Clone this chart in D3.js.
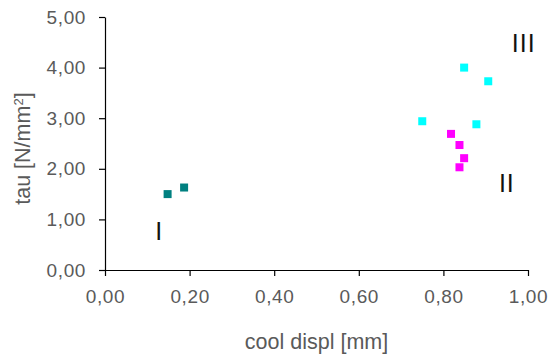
<!DOCTYPE html>
<html>
<head>
<meta charset="utf-8">
<script src="https://cdn.jsdelivr.net/npm/d3@7"></script>
<style>
  body { margin: 0; background: #fff; }
  text { font-family: "Liberation Sans", Arial, sans-serif; }
</style>
</head>
<body>
<div id="chart"></div>
<script>
// groups of measurements
let groupI_x = [0.148, 0.187];
let groupI_y = [1.50, 1.63];
let groupIII_x = [0.849, 0.906, 0.750, 0.878];
let groupIII_y = [4.00, 3.73, 2.94, 2.88];
let groupII_x = [0.818, 0.838, 0.849, 0.838];
let groupII_y = [2.69, 2.47, 2.21, 2.03];

let xTicks = [0, 0.2, 0.4, 0.6, 0.8, 1.0];
let yTicks = [0, 1, 2, 3, 4, 5];

// roman labels placed in data units
let groupNames = ["I", "II", "III"];
let groupNameX = [0.128, 0.95, 0.99];
let groupNameY = [0.60, 1.54, 4.30];

const width = 552, height = 356;
const margin = { left: 105, right: 24, top: 17, bottom: 86 };

let svg = d3.select("#chart")
    .append("svg")
    .attr("width", width)
    .attr("height", height);

let x = d3.scaleLinear()
    .domain([0, 1])
    .range([margin.left, width - margin.right]);
let y = d3.scaleLinear()
    .domain([0, 5])
    .range([height - margin.bottom, margin.top]);

let fmt = d => d.toFixed(2).replace(".", ",");

// x axis
let xAxis = svg.append("g")
    .attr("transform", `translate(0, ${y(0)})`)
    .call(d3.axisBottom(x).tickValues(xTicks).tickFormat(fmt).tickSize(6).tickPadding(14).tickSizeOuter(0));
// y axis
let yAxis = svg.append("g")
    .attr("transform", `translate(${x(0)}, 0)`)
    .call(d3.axisLeft(y).tickValues(yTicks).tickFormat(fmt).tickSize(6).tickPadding(13).tickSizeOuter(0));

[xAxis, yAxis].forEach(function (a) {
    a.select(".domain").attr("stroke", "#000").attr("stroke-width", 1.2);
    a.selectAll(".tick line").attr("stroke", "#000").attr("stroke-width", 1.2);
    a.selectAll(".tick text")
        .attr("fill", "#5a5a5a")
        .style("font-size", "19px")
        .style("letter-spacing", "0.6px");
});

// axis titles
svg.append("text")
    .attr("x", (x(0) + x(1)) / 2)
    .attr("y", 349)
    .attr("text-anchor", "middle")
    .attr("fill", "#5a5a5a")
    .style("font-size", "21.5px")
    .text("cool displ [mm]");

let yTitle = svg.append("text")
    .attr("transform", `translate(30, ${y(2.4)}) rotate(-90)`)
    .attr("text-anchor", "middle")
    .attr("fill", "#5a5a5a")
    .style("font-size", "21.5px");
yTitle.append("tspan").text("tau [N/mm");
yTitle.append("tspan").attr("dy", -7).style("font-size", "13px").text("2");
yTitle.append("tspan").attr("dy", 7).text("]");

// squares
const size = 8;
function drawGroup(xs, ys, color) {
    let data = xs.map((v, i) => ({ x: v, y: ys[i] }));
    svg.append("g")
        .selectAll("rect")
        .data(data)
        .enter()
        .append("rect")
        .attr("x", d => x(d.x) - size / 2)
        .attr("y", d => y(d.y) - size / 2)
        .attr("width", size)
        .attr("height", size)
        .attr("fill", color);
}
drawGroup(groupI_x, groupI_y, "#008080");
drawGroup(groupIII_x, groupIII_y, "#00ffff");
drawGroup(groupII_x, groupII_y, "#ff00ff");

// group labels
svg.append("g")
    .selectAll("text")
    .data(groupNames)
    .enter()
    .append("text")
    .attr("x", (d, i) => x(groupNameX[i]))
    .attr("y", (d, i) => y(groupNameY[i]))
    .attr("text-anchor", "middle")
    .attr("fill", "#111")
    .style("font-size", "25px")
    .style("letter-spacing", "1px")
    .text(d => d);
</script>
</body>
</html>
